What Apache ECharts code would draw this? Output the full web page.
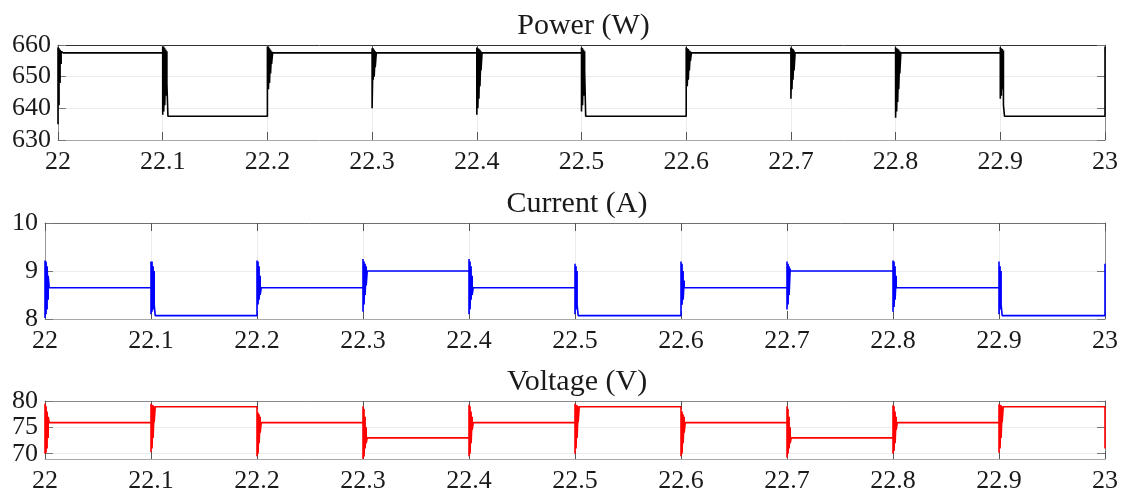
<!DOCTYPE html>
<html>
<head>
<meta charset="utf-8">
<script src="https://cdn.jsdelivr.net/npm/echarts@6/dist/echarts.min.js"></script>
<style>
html,body{margin:0;padding:0;background:#fff;}
#chart{width:1122px;height:500px;}
</style>
</head>
<body>
<div id="chart"></div>
<script>
// ---- data ----
const segStarts = [22.0, 22.1, 22.2, 22.3, 22.4, 22.5, 22.6, 22.7, 22.8, 22.9];
const tEnd = 23.0;
const xTickLabels = ['22','22.1','22.2','22.3','22.4','22.5','22.6','22.7','22.8','22.9','23'];

const powerLevels = [657.5, 637.5, 657.5, 657.5, 657.5, 637.5, 657.5, 657.5, 657.5, 637.5];
const powerSpikes = [
  [635, 659.3, 641, 659, 648, 658.5, 654, 658, 657.5],
  [659.5, 638, 659.5, 639, 659, 641, 658.5, 644, 658, 648, 637.5],
  [659.5, 645.5, 659.5, 646, 659, 648, 658.5, 651, 658, 654, 657.5],
  [659, 640, 659, 649, 658.5, 650, 658, 653, 657.5],
  [659.2, 638, 659, 640, 658.8, 643, 658.5, 647, 658, 652, 657.5],
  [659.2, 639, 659, 641, 658.5, 644, 658, 652, 637.5],
  [659.3, 646, 659, 647, 658.7, 649, 658.3, 652, 658, 655, 657.5],
  [659.2, 643, 659, 646, 658.7, 649, 658.3, 652, 657.5],
  [659.3, 637, 659, 639, 658.8, 642, 658.5, 646, 658, 651, 657.5],
  [659.3, 643, 659, 644, 658.7, 646, 658.3, 641, 637.5]
];
const powerEnd = 659.5;

const currentLevels = [8.65, 8.07, 8.65, 9.0, 8.65, 8.07, 8.65, 9.0, 8.65, 8.07];
const currentSpikes = [
  [8.02, 9.22, 8.1, 9.2, 8.2, 9.1, 8.4, 8.9, 8.65],
  [9.2, 8.1, 9.2, 8.15, 9.1, 8.2, 9.0, 8.3, 8.07],
  [9.22, 8.2, 9.2, 8.3, 9.1, 8.4, 8.9, 8.5, 8.65],
  [9.25, 8.15, 9.2, 8.3, 9.15, 8.5, 9.1, 8.7, 9.0],
  [9.25, 8.1, 9.2, 8.2, 9.1, 8.4, 8.9, 8.5, 8.65],
  [9.15, 8.1, 9.1, 8.2, 9.0, 8.3, 8.07],
  [9.2, 8.2, 9.15, 8.3, 9.0, 8.4, 8.8, 8.65],
  [9.2, 8.2, 9.15, 8.3, 9.1, 8.5, 9.05, 9.0],
  [9.22, 8.15, 9.2, 8.25, 9.1, 8.4, 8.9, 8.65],
  [9.2, 8.1, 9.1, 8.2, 9.0, 8.3, 8.07]
];
const currentEnd = 9.15;

const voltageLevels = [75.9, 78.9, 75.9, 73.0, 75.9, 78.9, 75.9, 73.0, 75.9, 78.9];
const voltageSpikes = [
  [70, 79.5, 70.2, 79, 71, 78, 73, 77, 75.9],
  [79.5, 70.3, 79.3, 71, 79.2, 73, 79, 76, 78.9],
  [78, 69.5, 77.8, 70, 77.5, 72, 77, 74, 75.9],
  [79, 69, 78.5, 69.5, 77, 71, 75, 72, 73.0],
  [79.3, 69.5, 79, 70, 78, 72, 77, 74.5, 75.9],
  [79.5, 70, 79.3, 71, 79.2, 73, 79, 76, 78.9],
  [78.5, 69.5, 78, 70, 77.5, 72, 77, 74, 75.9],
  [79, 69.3, 78.5, 70, 77, 71, 75, 72, 73.0],
  [79.2, 70, 79, 70.5, 78, 72, 77, 74.5, 75.9],
  [79.4, 70.2, 79.3, 71, 79.2, 73, 79, 76, 78.9]
];
const voltageEnd = 71.0;

const powerTicks = [630, 640, 650, 660];
const currentTicks = [8, 9, 10];
const voltageTicks = [70, 75, 80];

// ---- build series data (oscillation samples are paired in columns ~1px apart) ----
const dt = 0.001;
function build(levels, spikes, endVal) {
  const out = [];
  for (let i = 0; i < segStarts.length; i++) {
    const t0 = segStarts[i];
    const sp = spikes[i];
    sp.forEach((v, k) => out.push([+(t0 + Math.floor(k / 2) * dt).toFixed(5), v]));
    out.push([+(t0 + Math.ceil(sp.length / 2) * dt).toFixed(5), levels[i]]);
    const t1 = i + 1 < segStarts.length ? segStarts[i + 1] : tEnd;
    out.push([t1, levels[i]]);
  }
  out.push([tEnd, endVal]);
  return out;
}

const FONT = '"Liberation Serif", "Times New Roman", serif';
const grids = [
  {left: 58, right: 17, top: 45, height: 95},
  {left: 45, right: 17, top: 223, height: 96},
  {left: 45, right: 17, top: 401, height: 58}
];
const titles = ['Power (W)', 'Current (A)', 'Voltage (V)'];
const yRanges = [[630, 660], [8, 10], [69, 80]];
const yTicks = [powerTicks, currentTicks, voltageTicks];
const colors = ['#000000', '#0000ff', '#ff0000'];
const datas = [
  build(powerLevels, powerSpikes, powerEnd),
  build(currentLevels, currentSpikes, currentEnd),
  build(voltageLevels, voltageSpikes, voltageEnd)
];
const topLineColors = ['#333333', '#707070', '#8a8a8a'];

const xAxes = [], yAxes = [], series = [], titleOpts = [];
const gridLine = {show: true, lineStyle: {color: '#ececec', width: 1}};
grids.forEach((g, i) => {
  const cx = g.left + (1122 - g.left - g.right) / 2;
  titleOpts.push({
    text: titles[i], left: cx - 3, top: g.top - 39, textAlign: 'center',
    textStyle: {fontFamily: FONT, fontSize: 30, fontWeight: 'normal', color: '#1a1a1a'}
  });
  xAxes.push({
    type: 'value', gridIndex: i, position: 'bottom', min: 22, max: 23, interval: 0.1,
    axisLine: {show: true, onZero: false, lineStyle: {color: '#a8a8a8', width: 1}},
    axisTick: {show: true, inside: true, length: 8, lineStyle: {color: '#555'}},
    splitLine: gridLine,
    axisLabel: {
      show: true, margin: 9, fontFamily: FONT, fontSize: 26, color: '#1a1a1a', hideOverlap: false,
      formatter: v => xTickLabels[Math.round((v - 22) * 10)]
    }
  });
  xAxes.push({
    type: 'value', gridIndex: i, position: 'top', min: 22, max: 23, interval: 0.1,
    axisLine: {show: true, onZero: false, lineStyle: {color: topLineColors[i], width: 1}},
    axisTick: {show: true, inside: true, length: 8, lineStyle: {color: '#555'}},
    splitLine: {show: false}, axisLabel: {show: false}
  });
  const yr = yRanges[i];
  yAxes.push({
    type: 'value', gridIndex: i, position: 'left', min: yr[0], max: yr[1],
    axisLine: {show: true, onZero: false, lineStyle: {color: '#999', width: 1}},
    axisTick: {show: true, inside: true, length: 8, lineStyle: {color: '#777'}, customValues: yTicks[i]},
    splitLine: gridLine,
    axisLabel: {show: true, margin: 7, fontFamily: FONT, fontSize: 26, color: '#1a1a1a',
      hideOverlap: false, customValues: yTicks[i]}
  });
  yAxes.push({
    type: 'value', gridIndex: i, position: 'right', min: yr[0], max: yr[1],
    axisLine: {show: true, onZero: false, lineStyle: {color: '#8a8a8a', width: 1}},
    axisTick: {show: true, inside: true, length: 8, lineStyle: {color: '#777'}, customValues: yTicks[i]},
    splitLine: {show: false}, axisLabel: {show: false}
  });
  series.push({
    type: 'line', xAxisIndex: i * 2, yAxisIndex: i * 2, data: datas[i],
    showSymbol: false, symbol: 'none', smooth: false,
    lineStyle: {color: colors[i], width: 1.6}, z: 5
  });
});

const chart = echarts.init(document.getElementById('chart'), null, {renderer: 'canvas'});
chart.setOption({
  animation: false,
  backgroundColor: '#ffffff',
  title: titleOpts,
  grid: grids,
  xAxis: xAxes,
  yAxis: yAxes,
  series: series
});
</script>
</body>
</html>
